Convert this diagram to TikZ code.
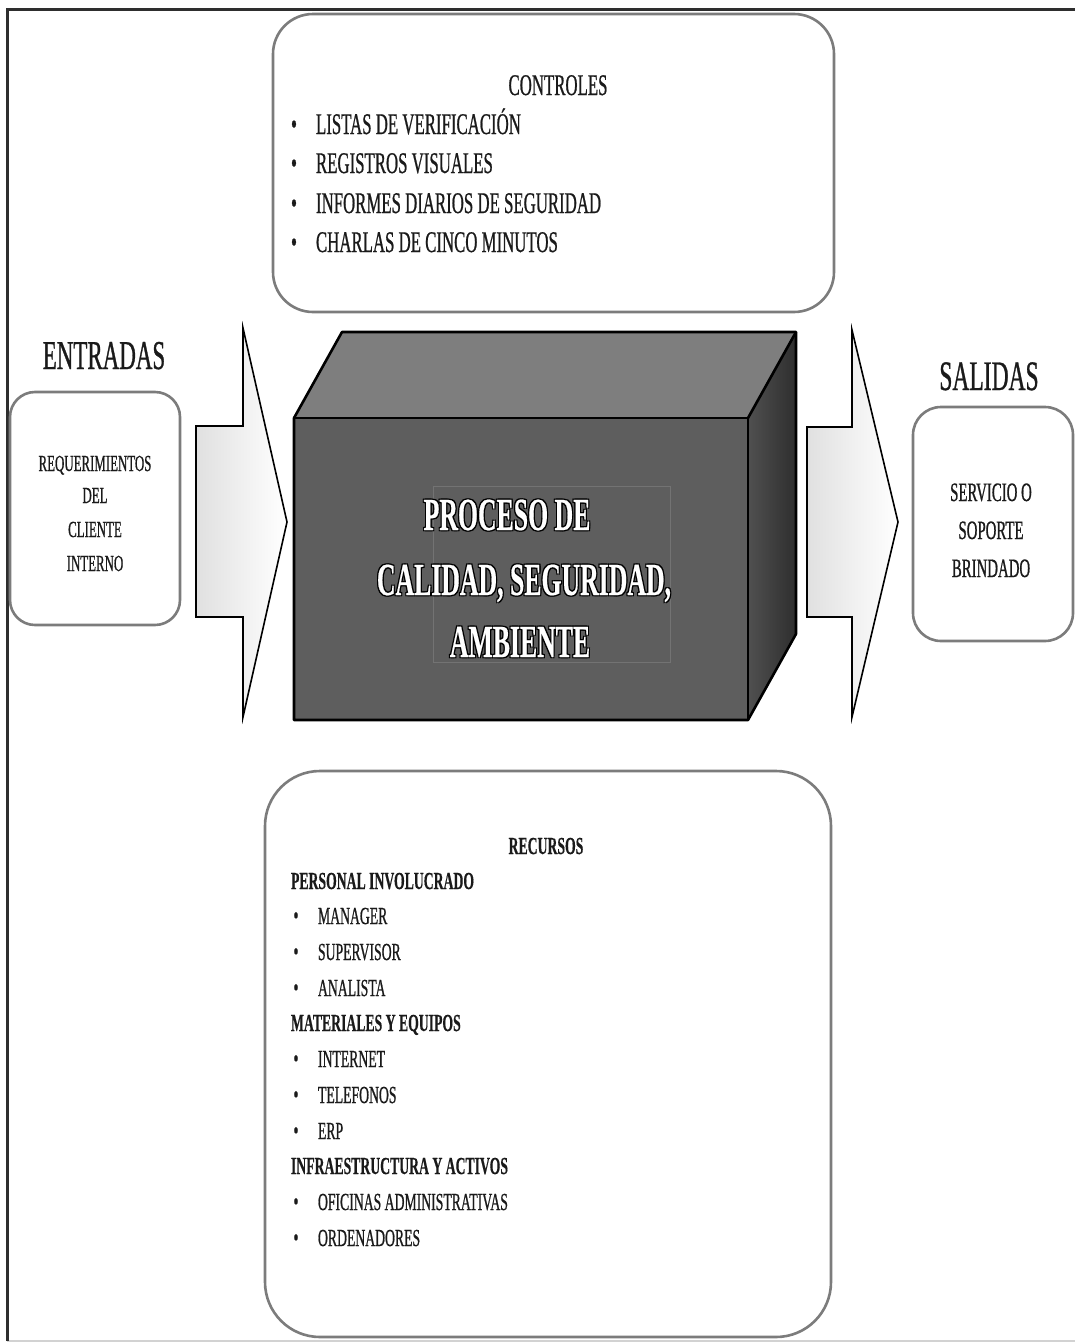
\documentclass[tikz,border=0pt]{standalone}
\usepackage{fontspec}
\setmainfont{Liberation Serif}[FakeStretch=0.56,
  UprightFeatures={FakeBold=0.7},
  BoldFont={Liberation Serif Bold},
  BoldFeatures={FakeBold=0.4}]

\definecolor{framedark}{HTML}{2E2E2E}
\definecolor{boxline}{HTML}{7C7C7C}
\definecolor{frontface}{HTML}{5E5E5E}
\definecolor{topface}{HTML}{7E7E7E}
\definecolor{sidedark}{HTML}{2E2E2E}
\definecolor{sidelight}{HTML}{505050}
\definecolor{inktext}{HTML}{1A1A1A}

% white lettering with a thin dark rim
\newcommand\haloline[1]{%
  \rlap{\kern1.1pt\raisebox{1.1pt}{\color{black}#1}}%
  \rlap{\kern-1.1pt\raisebox{-1.1pt}{\color{black}#1}}%
  \rlap{\kern1.1pt\raisebox{-1.1pt}{\color{black}#1}}%
  \rlap{\kern-1.1pt\raisebox{1.1pt}{\color{black}#1}}%
  {\color{white}#1}}

\newcommand\fsize[1]{\fontsize{#1}{#1}\selectfont}

\tikzset{
  roundbox/.style={draw=boxline, line width=2.6pt, fill=white},
  blockarrow/.style={draw=black, line width=1.6pt, left color=gray!24,
    right color=white, line join=miter},
  face/.style={draw=black, line width=2.6pt, line join=round},
  txt/.style={inner sep=0pt, outer sep=0pt, text=inktext},
  ctrlitem/.style={txt, anchor=base west, font=\fsize{30}},
  recitem/.style={txt, anchor=base west, font=\fsize{24.5}},
  rechead/.style={txt, anchor=base west, font=\fsize{24.5}\bfseries},
  bulletmark/.style={txt, anchor=base, font=\fsize{30}},
  bigtitle/.style={txt, anchor=base, font=\fsize{41}},
  proctext/.style={inner sep=0pt, anchor=base, font=\fsize{46}\bfseries},
}

\begin{document}
\begin{tikzpicture}[x=1pt, y=-1pt]
\useasboundingbox (0,0) rectangle (1075,1344);

% page frame
\coordinate (fbl) at (7,1341);
\coordinate (ftl) at (7,9);
\coordinate (ftr) at (1075,9);
\coordinate (fbr) at (1075,1341);
\draw[gray!35, line width=1.4pt] (fbl) -- (fbr);
\draw[framedark, line width=3pt] (fbl) -- (ftl) -- (ftr);

% ---------- controls ----------
\draw[roundbox, rounded corners=40pt] (273,14) rectangle (834,312);
\node[txt, anchor=base, font=\fsize{30}] (ctrltitle) at (558,95) {CONTROLES};
\foreach \i/\yy/\t in {1/134/LISTAS DE VERIFICACIÓN,
                       2/173/REGISTROS VISUALES,
                       3/213/INFORMES DIARIOS DE SEGURIDAD,
                       4/252/CHARLAS DE CINCO MINUTOS}{
  \node[bulletmark] (cb\i) at (294,\yy) {\textbullet};
  \node[ctrlitem] (ci\i) at (316,\yy) {\t};
}

% ---------- inputs ----------
\node[bigtitle] (intitle) at (104,369) {ENTRADAS};
\draw[roundbox, rounded corners=25pt] (10,392) rectangle (180,625);
\foreach \i/\yy/\t in {1/471/REQUERIMIENTOS, 2/503/DEL, 3/537/CLIENTE, 4/571/INTERNO}{
  \node[txt, anchor=base, font=\fsize{23}] (in\i) at (95,\yy) {\t};
}
\draw[blockarrow] (196,426) -- (243,426) -- (243,328) -- (287,522)
  -- (243,717) -- (243,617) -- (196,617) -- cycle;

% ---------- outputs ----------
\node[bigtitle, font=\fsize{42}] (outtitle) at (989,390) {SALIDAS};
\draw[roundbox, rounded corners=28pt] (913,407) rectangle (1073,641);
\foreach \i/\yy/\t in {1/501/SERVICIO O, 2/539/SOPORTE, 3/577/BRINDADO}{
  \node[txt, anchor=base, font=\fsize{26.5}] (out\i) at (991,\yy) {\t};
}
\draw[blockarrow] (807,427) -- (852,427) -- (852,330) -- (898,522)
  -- (852,717) -- (852,617) -- (807,617) -- cycle;

% ---------- process block ----------
\coordinate (ftlc) at (294,418);
\coordinate (ftrc) at (748,418);
\coordinate (fbrc) at (748,720);
\coordinate (fblc) at (294,720);
\coordinate (btl) at (342,332);
\coordinate (btr) at (796,332);
\coordinate (bbr) at (796,634);
\fill[topface] (ftlc) -- (btl) -- (btr) -- (ftrc) -- cycle;
\shade[left color=sidelight, right color=sidedark] (ftrc) -- (btr) -- (bbr) -- (fbrc) -- cycle;
\fill[frontface] (ftlc) rectangle (fbrc);
\draw[face] (ftlc) -- (btl) -- (btr) -- (bbr) -- (fbrc) -- (fblc) -- cycle;
\draw[face] (ftlc) -- (ftrc) -- (fbrc);
\draw[face] (ftrc) -- (btr);
\draw[black!55, line width=0.5pt] (433,486) rectangle (670,662);
\node[proctext] (proc1) at (507,530) {\haloline{PROCESO DE}};
\node[proctext] (proc2) at (524,595) {\haloline{CALIDAD, SEGURIDAD,}};
\node[proctext] (proc3) at (520,657) {\haloline{AMBIENTE}};

% ---------- resources ----------
\draw[roundbox, rounded corners=55pt] (265,771) rectangle (831,1337);
\node[txt, anchor=base, font=\fsize{24.5}\bfseries] (rectitle) at (546,854) {RECURSOS};
\node[rechead] (rh1) at (291,889) {PERSONAL INVOLUCRADO};
\node[rechead] (rh2) at (291,1031) {MATERIALES Y EQUIPOS};
\node[rechead] (rh3) at (291,1174) {INFRAESTRUCTURA Y ACTIVOS};
\foreach \i/\yy/\t in {1/924/MANAGER, 2/960/SUPERVISOR, 3/996/ANALISTA,
                       4/1067/INTERNET, 5/1103/TELEFONOS, 6/1139/ERP,
                       7/1210/OFICINAS ADMINISTRATIVAS, 8/1246/ORDENADORES}{
  \node[bulletmark, font=\fsize{26}] (rb\i) at (296,\yy) {\textbullet};
  \node[recitem] (ri\i) at (318,\yy) {\t};
}
\end{tikzpicture}
\end{document}
